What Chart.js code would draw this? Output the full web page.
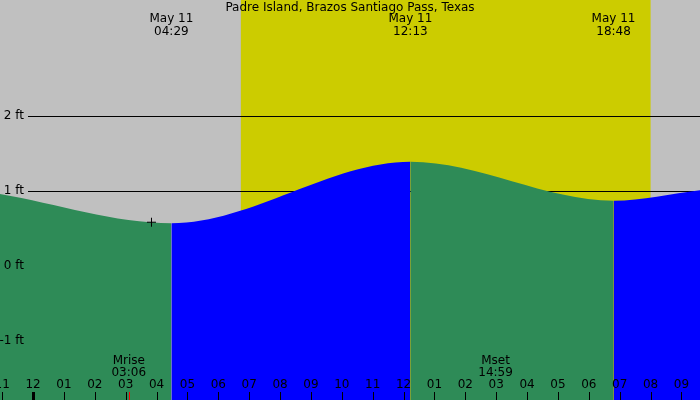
<!DOCTYPE html><html><head><meta charset="utf-8">
<script src="https://cdn.jsdelivr.net/npm/chart.js@4/dist/chart.umd.min.js"></script>
<style>html,body{margin:0;padding:0;background:#c0c0c0}#w{width:700px;height:400px}</style></head><body>
<div id="w"><canvas id="c"></canvas></div>
<script>
const title = "Padre Island, Brazos Santiago Pass, Texas";
const tideHours = [-1.07, 4.48, 12.22, 18.8, 21.6];
const tideFeet = [0.96, 0.57, 1.39, 0.87, 1.01];
const extremeLabels = [["May 11","04:29",4.48],["May 11","12:13",12.22],["May 11","18:48",18.8]];
const sunrise = 6.73, sunset = 20.0;
const moonEvents = [["Mrise","03:06",3.1],["Mset","14:59",14.98]];
const yTickValues = [2,1,0,-1];
const yTickLabels = ["2 ft","1 ft","0 ft","-1 ft"];
const gridFeet = [1,2];
const hourTicks = [];for(let h=-1;h<=21;h++)hourTicks.push(h);
const markerPoint = {x:3.82,y:0.59};
const F = "12px 'DejaVu Sans', sans-serif";

const deco = {
  id:'deco',
  beforeDraw(c){
    const {ctx,chartArea:a,scales:{x,y}}=c;
    ctx.save();
    ctx.fillStyle='#c0c0c0';ctx.fillRect(0,0,700,400);
    ctx.fillStyle='#cccc00';
    ctx.fillRect(x.getPixelForValue(sunrise),0,x.getPixelForValue(sunset)-x.getPixelForValue(sunrise),400);
    ctx.strokeStyle='#000';ctx.lineWidth=1;
    gridFeet.forEach(v=>{const py=Math.round(y.getPixelForValue(v))+0.5;ctx.beginPath();ctx.moveTo(28,py);ctx.lineTo(700,py);ctx.stroke();});
    ctx.restore();
  },
  afterDraw(c){
    const {ctx,scales:{x,y}}=c;
    ctx.save();ctx.font=F;ctx.fillStyle='#000';ctx.textBaseline='middle';
    ctx.textAlign='center';ctx.fillText(title,350,8);
    extremeLabels.forEach(([d,t,h])=>{const px=x.getPixelForValue(h);ctx.fillText(d,px,19);ctx.fillText(t,px,32);});
    ctx.textAlign='right';
    yTickValues.forEach((v,i)=>ctx.fillText(yTickLabels[i],24,y.getPixelForValue(v)));
    ctx.textAlign='center';
    moonEvents.forEach(([n,t,h])=>{const px=x.getPixelForValue(h);ctx.fillText(n,px,361);ctx.fillText(t,px,373);
      ctx.strokeStyle='#ff0000';ctx.beginPath();ctx.moveTo(Math.round(px)+0.5,392);ctx.lineTo(Math.round(px)+0.5,400);ctx.stroke();});
    hourTicks.forEach(h=>{const px=x.getPixelForValue(h);let l=((h%12)+12)%12;if(l===0)l=12;
      ctx.fillStyle='#000';ctx.fillText(String(l).padStart(2,'0'),px,385);
      ctx.fillRect(Math.round(px)-(h===0?1:0),392,h===0?3:1,8);});
    const mx=x.getPixelForValue(markerPoint.x),my=y.getPixelForValue(markerPoint.y);
    ctx.strokeStyle='#000';ctx.beginPath();ctx.moveTo(mx-4,my+0.5);ctx.lineTo(mx+5,my+0.5);ctx.moveTo(mx+0.5,my-4);ctx.lineTo(mx+0.5,my+5);ctx.stroke();
    ctx.restore();
  }
};
new Chart(document.getElementById('c'),{
  type:'line',
  data:{datasets:[{data:tideHours.map((h,i)=>({x:h,y:tideFeet[i]})),
    cubicInterpolationMode:'monotone',fill:'start',borderWidth:0,pointRadius:0,
    backgroundColor:'#2e8b57',
    segment:{backgroundColor:s=>s.p1.parsed.y<s.p0.parsed.y?'#2e8b57':'#0000ff',borderColor:s=>s.p1.parsed.y<s.p0.parsed.y?'#2e8b57':'#0000ff'}}]},
  options:{responsive:true,maintainAspectRatio:false,animation:false,layout:{padding:0},
    plugins:{legend:{display:false},tooltip:{enabled:false}},
    scales:{x:{type:'linear',min:-1.07,max:21.6,display:false},y:{min:-1.79,max:3.55,display:false}}},
  plugins:[deco]
});
</script></body></html>
